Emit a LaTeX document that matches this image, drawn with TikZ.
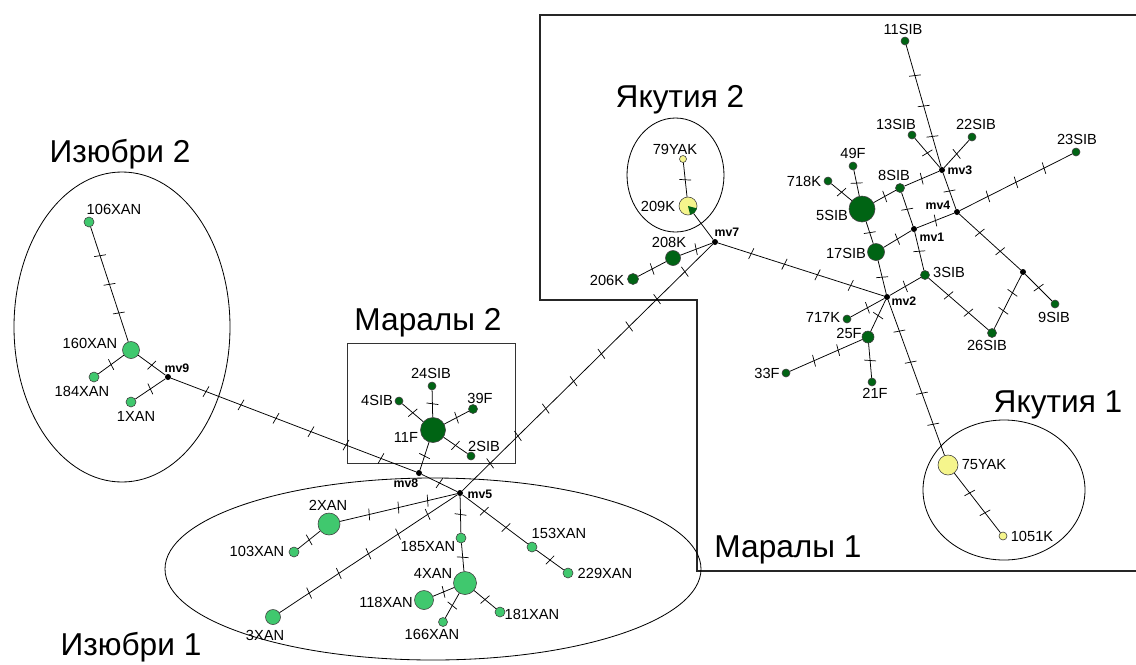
\documentclass[tikz,border=0pt]{standalone}
\usepackage{fontspec}
\setmainfont{Liberation Sans}
\usetikzlibrary{decorations.markings}
\definecolor{xan}{RGB}{64,200,110}
\definecolor{sib}{RGB}{0,100,20}
\definecolor{yak}{RGB}{245,245,140}

\begin{document}
\begin{tikzpicture}[x=0.03cm, y=-0.03cm,
  hap/.style={circle, draw=black!75, line width=0.5pt, inner sep=0pt, minimum size=0.06cm*#1},
  xan node/.style={hap=#1, fill=xan},
  sib node/.style={hap=#1, fill=sib},
  yak node/.style={hap=#1, fill=yak},
  mv node/.style={circle, fill=black, inner sep=0pt, minimum size=0.18cm},
  lab/.style={font=\fontsize{12.5}{14}\selectfont, inner sep=0pt},
  mvlab/.style={font=\fontsize{10.5}{12}\selectfont\bfseries, inner sep=0pt},
  group/.style={font=\fontsize{27}{31}\selectfont, inner sep=0pt, anchor=base},
  mut/.style={postaction={decorate, decoration={markings,
    mark=between positions 1/(#1+1) and (#1+0.5)/(#1+1) step 1/(#1+1)
    with {\draw[line width=0.6pt] (-0.8pt,-5pt) -- (0.8pt,5pt);}}}},
  every edge/.style={draw, line width=0.65pt}]
\useasboundingbox (0,0) rectangle (1136,664);

\draw[line width=0.9pt, black!85] (1136,15) -- (540,15) -- (540,300) -- (697,300) -- (697,571) -- (1136,571);
\draw[line width=0.7pt, black!80] (347,343) rectangle (515,463);
\draw[line width=0.7pt] (122,327) ellipse [x radius=108, y radius=155];
\draw[line width=0.7pt] (433,569) ellipse [x radius=268, y radius=91];
\draw[line width=0.7pt] (675.5,175) ellipse [x radius=48.5, y radius=57];
\draw[line width=0.7pt] (1004,490) ellipse [x radius=81, y radius=70];

\node[group] (izu2) at (120,162) {Изюбри 2};
\node[group] (izu1) at (131,655) {Изюбри 1};
\node[group] (mar2) at (428,330) {Маралы 2};
\node[group] (mar1) at (788,557) {Маралы 1};
\node[group] (yak2) at (680,107) {Якутия 2};
\node[group] (yak1) at (1058,412) {Якутия 1};

\node[mv node] (mv1) at (914,229) {};
\node[mv node] (mv2) at (887,297) {};
\node[mv node] (mv3) at (942,170) {};
\node[mv node] (mv4) at (957,212) {};
\node[mv node] (mv5) at (460,493) {};
\node[mv node] (mv6) at (1023,272) {};
\node[mv node] (mv7) at (715,242) {};
\node[mv node] (mv8) at (419,473) {};
\node[mv node] (mv9) at (168,377) {};

\node[xan node=5]    (xan106) at (89,222) {};
\node[xan node=8.5]  (xan160) at (131,350) {};
\node[xan node=5]    (xan184) at (94,377) {};
\node[xan node=5]    (xan1)   at (131,402) {};
\node[xan node=11]   (xan2)   at (329,524) {};
\node[xan node=5]    (xan103) at (294,552) {};
\node[xan node=7.5]  (xan3)   at (273,617) {};
\node[xan node=5]    (xan185) at (461,538) {};
\node[xan node=11.5] (xan4)   at (465,583) {};
\node[xan node=9.5]  (xan118) at (424,600) {};
\node[xan node=4.5]  (xan166) at (443,622) {};
\node[xan node=5]    (xan181) at (500,612) {};
\node[xan node=5]    (xan153) at (532,547) {};
\node[xan node=5]    (xan229) at (568,573) {};

\node[sib node=12.5] (f11)   at (433,430) {};
\node[sib node=4]    (sib24) at (432,386) {};
\node[sib node=4]    (sib4)  at (399,401) {};
\node[sib node=4.5]  (f39)   at (473,409) {};
\node[sib node=4]    (sib2)  at (471,456) {};

\node[yak node=9]    (k209)  at (688,206) {};
\fill[sib] (k209.center) -- (k209.-15) arc[start angle=-15, end angle=-80, radius=0.26cm] -- cycle;
\node[yak node=3.5]  (yak79) at (683,159) {};
\node[sib node=7.5]  (k208)  at (673,258) {};
\node[sib node=5.5]  (k206)  at (633,279) {};

\node[sib node=8.5]  (sib17) at (876,252) {};
\node[sib node=13]   (sib5)  at (862,209) {};
\node[sib node=4]    (k718)  at (828,181) {};
\node[sib node=4]    (f49)   at (853,166) {};
\node[sib node=4.5]  (sib8)  at (900,188) {};
\node[sib node=4]    (sib11) at (905,41) {};
\node[sib node=4]    (sib13) at (912,135) {};
\node[sib node=4]    (sib22) at (972,137) {};
\node[sib node=4]    (sib23) at (1076,152) {};
\node[sib node=4.5]  (sib3)  at (925,275) {};
\node[sib node=4]    (sib9)  at (1055,304) {};
\node[sib node=4.5]  (sib26) at (992,333) {};
\node[sib node=4]    (k717)  at (847,319) {};
\node[sib node=6]    (f25)   at (868,337) {};
\node[sib node=4]    (f33)   at (786,373) {};
\node[sib node=4]    (f21)   at (872,382) {};
\node[yak node=10]   (yak75) at (948,465) {};
\node[yak node=4]    (k1051) at (1003,536) {};

\path
(xan106) edge[mut=3] (xan160)
(xan160) edge[mut=1] (xan184)
         edge[mut=1] (mv9)
(mv9)    edge[mut=1] (xan1)
         edge[mut=6] (mv8)
(mv8)    edge[mut=1] (mv5)
         edge[mut=1] (f11)
(f11)    edge[mut=1] (sib24)
         edge[mut=1] (sib4)
         edge[mut=1] (f39)
         edge[mut=1] (sib2)
(mv5)    edge[mut=8] (mv7)
         edge[mut=3] (xan2)
         edge[mut=5] (xan3)
         edge[mut=1] (xan185)
         edge[mut=2] (xan153)
(xan2)   edge[mut=1] (xan103)
(xan185) edge[mut=1] (xan4)
(xan4)   edge[mut=1] (xan118)
         edge[mut=1] (xan166)
         edge[mut=1] (xan181)
(xan153) edge[mut=1] (xan229)
(mv7)    edge        (k209)
         edge[mut=1] (k208)
         edge[mut=4] (mv2)
(k209)   edge[mut=1] (yak79)
(k208)   edge[mut=1] (k206)
(mv2)    edge[mut=1] (sib17)
         edge[mut=1] (sib3)
         edge[mut=1] (k717)
         edge[mut=1] (f25)
         edge[mut=4] (yak75)
(sib17)  edge[mut=1] (sib5)
         edge[mut=1] (mv1)
(sib5)   edge[mut=1] (k718)
         edge[mut=1] (f49)
         edge[mut=1] (sib8)
(sib8)   edge[mut=1] (mv3)
         edge[mut=1] (mv1)
(mv1)    edge[mut=1] (mv4)
(mv3)    edge[mut=1] (mv4)
         edge[mut=3] (sib11)
         edge[mut=1] (sib13)
         edge[mut=1] (sib22)
(mv4)    edge[mut=3] (sib23)
         edge[mut=2] (mv6)
(mv6)    edge[mut=1] (sib9)
         edge[mut=2] (sib26)
(sib26)  edge[mut=2] (sib3)
(sib3)   edge[mut=1] (mv1)
(f25)    edge[mut=2] (f33)
         edge[mut=1] (f21)
(yak75)  edge[mut=2] (k1051)
;

\node[lab] (t106) at (114,209) {106XAN};
\node[lab] (t160) at (90,343) {160XAN};
\node[lab] (t184) at (82,391) {184XAN};
\node[lab] (t1)   at (136,416) {1XAN};
\node[lab] (t2x)  at (328,505) {2XAN};
\node[lab] (t103) at (257,551) {103XAN};
\node[lab] (t3x)  at (265,635) {3XAN};
\node[lab] (t185) at (428,546) {185XAN};
\node[lab] (t4x)  at (433,573) {4XAN};
\node[lab] (t118) at (386,602) {118XAN};
\node[lab] (t166) at (432,634) {166XAN};
\node[lab] (t181) at (532,614) {181XAN};
\node[lab] (t153) at (559,533) {153XAN};
\node[lab] (t229) at (605,573) {229XAN};
\node[lab] (t11f) at (406,437) {11F};
\node[lab] (t24s) at (431,373) {24SIB};
\node[lab] (t4s)  at (377,400) {4SIB};
\node[lab] (t39f) at (480,398) {39F};
\node[lab] (t2s)  at (484,446) {2SIB};
\node[lab] (t79y) at (675,149) {79YAK};
\node[lab] (t209) at (658,206) {209K};
\node[lab] (t208) at (669,242) {208K};
\node[lab] (t206) at (607,280) {206K};
\node[lab] (t11s) at (903,29) {11SIB};
\node[lab] (t13s) at (896,124) {13SIB};
\node[lab] (t22s) at (976,124) {22SIB};
\node[lab] (t23s) at (1077,139) {23SIB};
\node[lab] (t49f) at (853,153) {49F};
\node[lab] (t718) at (804,181) {718K};
\node[lab] (t8s)  at (894,175) {8SIB};
\node[lab] (t5s)  at (832,215) {5SIB};
\node[lab] (t17s) at (846,253) {17SIB};
\node[lab] (t3s)  at (949,272) {3SIB};
\node[lab] (t9s)  at (1054,317) {9SIB};
\node[lab] (t26s) at (987,345) {26SIB};
\node[lab] (t717) at (823,317) {717K};
\node[lab] (t25f) at (849,333) {25F};
\node[lab] (t33f) at (767,373) {33F};
\node[lab] (t21f) at (875,393) {21F};
\node[lab] (t75y) at (984,465) {75YAK};
\node[lab] (t1051) at (1032,536) {1051K};

\node[mvlab] (lmv1) at (932,237) {mv1};
\node[mvlab] (lmv2) at (904,301) {mv2};
\node[mvlab] (lmv3) at (960,170) {mv3};
\node[mvlab] (lmv4) at (938,205) {mv4};
\node[mvlab] (lmv5) at (480,494) {mv5};
\node[mvlab] (lmv7) at (727,232) {mv7};
\node[mvlab] (lmv8) at (406,483) {mv8};
\node[mvlab] (lmv9) at (177,368) {mv9};
\end{tikzpicture}
\end{document}
